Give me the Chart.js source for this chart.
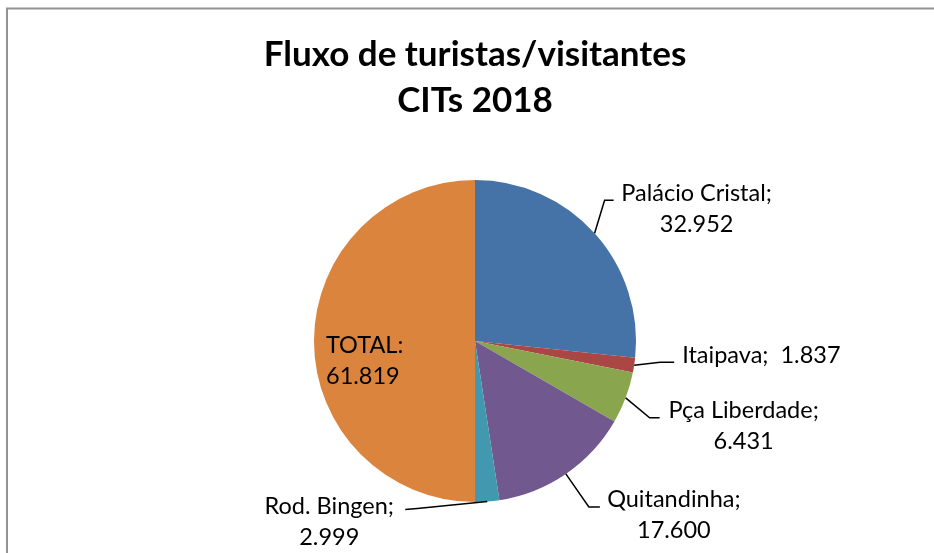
<!DOCTYPE html>
<html>
<head>
<meta charset="utf-8">
<script src="https://cdn.jsdelivr.net/npm/chart.js@4"></script>
<style>
  body { margin: 0; background: #fff; }
</style>
</head>
<body>
<canvas id="pie" width="934" height="553"></canvas>
<script>
const categories = ['Palácio Cristal', 'Itaipava', 'Pça Liberdade', 'Quitandinha', 'Rod. Bingen', 'TOTAL'];
const values = [32952, 1837, 6431, 17600, 2999, 61819];
const colors = ['#4572A7', '#AA4643', '#89A54E', '#71588F', '#4198AF', '#DB843D'];
const titleLines = ['Fluxo de turistas/visitantes', 'CITs 2018'];

// where each label sits, relative to the slice edge at its middle angle
const labelLayout = [
  { elbow: [10, -33], end: [19, -33], text: [102, -32], align: 'center', wrap: true },
  { elbow: [26, -3], end: [40, -3], text: [48, -2], align: 'left', wrap: false },
  { elbow: [24, 20], end: [34, 20], text: [118, 20], align: 'center', wrap: true },
  { elbow: [23, 33], end: [34, 33], text: [108, 33], align: 'center', wrap: true },
  { elbow: [-70, 7], end: [-82, 8], text: [-158, 12], align: 'center', wrap: true },
  { elbow: null, end: null, text: [12, 12], align: 'left', wrap: true }
];

const fmt = v => String(v).replace(/\B(?=(\d{3})+(?!\d))/g, '.');

const borderPlugin = {
  id: 'frame',
  beforeDraw(chart) {
    const ctx = chart.ctx;
    ctx.save();
    ctx.fillStyle = '#fff';
    ctx.fillRect(0, 0, chart.width, chart.height);
    ctx.strokeStyle = '#939393';
    ctx.lineWidth = 2;
    ctx.strokeRect(7, 8.5, 1000, 1000);
    ctx.restore();
  }
};

const labelPlugin = {
  id: 'pieLabels',
  afterDatasetsDraw(chart) {
    const ctx = chart.ctx;
    const arcs = chart.getDatasetMeta(0).data;
    ctx.save();
    ctx.font = '23.5px Lato';
    ctx.fillStyle = '#000';
    ctx.strokeStyle = '#000';
    ctx.lineWidth = 1.5;
    ctx.textBaseline = 'alphabetic';
    arcs.forEach((arc, i) => {
      const p = arc.getProps(['x', 'y', 'startAngle', 'endAngle', 'outerRadius'], true);
      const mid = (p.startAngle + p.endAngle) / 2;
      const ex = p.x + Math.cos(mid) * p.outerRadius;
      const ey = p.y + Math.sin(mid) * p.outerRadius;
      const L = labelLayout[i];
      if (L.elbow) {
        ctx.beginPath();
        ctx.moveTo(ex, ey);
        ctx.lineTo(ex + L.elbow[0], ey + L.elbow[1]);
        ctx.lineTo(ex + L.end[0], ey + L.end[1]);
        ctx.stroke();
      }
      const sep = i === 5 ? ':' : ';';
      const lines = L.wrap
        ? [categories[i] + sep, fmt(values[i])]
        : [categories[i] + sep + '  ' + fmt(values[i])];
      ctx.textAlign = L.align;
      lines.forEach((t, k) => {
        ctx.fillText(t, ex + L.text[0], ey + L.text[1] + k * 31);
      });
    });
    ctx.restore();
  }
};

new Chart(document.getElementById('pie'), {
  type: 'pie',
  data: {
    labels: categories,
    datasets: [{
      data: values,
      backgroundColor: colors,
      borderWidth: 0
    }]
  },
  options: {
    responsive: false,
    animation: false,
    layout: { padding: { left: 16, right: 0, top: 0, bottom: 51 } },
    plugins: {
      legend: { display: false },
      tooltip: { enabled: false },
      title: {
        display: true,
        text: titleLines,
        color: '#000',
        font: { family: 'Lato', size: 35, weight: 'bold', lineHeight: 46 / 35 },
        padding: { top: 32, bottom: 56 }
      }
    }
  },
  plugins: [borderPlugin, labelPlugin]
});
</script>
</body>
</html>
